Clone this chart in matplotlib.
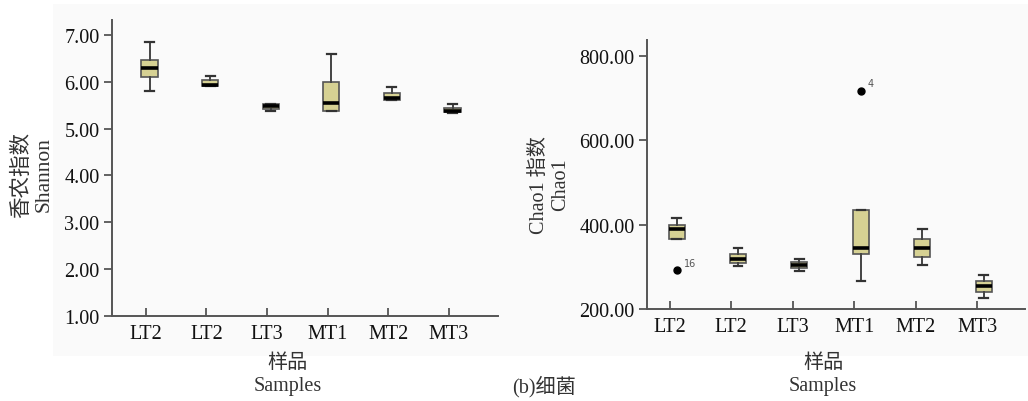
import numpy as np
import matplotlib.pyplot as plt
from matplotlib.patches import Rectangle


# Sample names and box statistics (whisker low, Q1, median, Q3, whisker high).
samples = ["LT2", "LT2", "LT3", "MT1", "MT2", "MT3"]

shannon_whislo = [5.81, 5.91, 5.37, 5.37, 5.61, 5.34]
shannon_q1     = [6.10, 5.92, 5.43, 5.38, 5.62, 5.35]
shannon_med    = [6.29, 5.94, 5.49, 5.55, 5.65, 5.38]
shannon_q3     = [6.46, 6.03, 5.52, 5.99, 5.76, 5.45]
shannon_whishi = [6.84, 6.12, 5.53, 6.60, 5.89, 5.52]

chao1_whislo = [366.0, 302.6, 290.8, 267.0, 303.6, 226.8]
chao1_q1     = [366.0, 308.3, 296.4, 329.6, 323.2, 241.0]
chao1_med    = [389.6, 317.8, 303.6, 343.8, 344.5, 255.2]
chao1_q3     = [399.8, 329.6, 310.7, 435.3, 366.6, 267.0]
chao1_whishi = [415.6, 343.8, 319.2, 435.3, 389.6, 280.6]
chao1_fliers = [[292.4], [], [], [717.3], [], []]
chao1_flier_ids = [["16"], [], [], ["4"], [], []]

boxColour = "#d6d193"
edgeColour = "#555555"
serifFamily = ["Liberation Serif", "Noto Sans CJK SC"]
fontSize = 14.5


def BuildStats(lo, q1, med, q3, hi, fliers=None):
    stats = []
    for i in range(len(lo)):
        stats.append({"whislo": lo[i], "q1": q1[i], "med": med[i], "q3": q3[i], "whishi": hi[i],
                      "fliers": fliers[i] if fliers is not None else []})
    return stats


def StyleAxis(ax):
    ax.set_facecolor("none")
    for side in ["top", "right"]:
        ax.spines[side].set_visible(False)
    for side in ["left", "bottom"]:
        ax.spines[side].set_color(edgeColour)
        ax.spines[side].set_linewidth(1.4)
    ax.tick_params(axis="y", direction="out", length=6, width=1.3, color=edgeColour, pad=3, labelsize=fontSize)
    ax.tick_params(axis="x", direction="in", length=6, width=1.3, color=edgeColour, pad=6, labelsize=fontSize)
    ax.set_xticks(np.arange(len(samples)))
    ax.set_xticklabels(samples)
    for label in ax.get_xticklabels() + ax.get_yticklabels():
        label.set_fontfamily(serifFamily)
        label.set_color("#111111")


def DrawBoxes(ax, stats, offset, width):
    ax.bxp(stats, positions=np.arange(len(stats)) + offset, widths=width, capwidths=width * 0.55,
           patch_artist=True, showfliers=True,
           boxprops=dict(facecolor=boxColour, edgecolor=edgeColour, linewidth=1.2),
           medianprops=dict(color="black", linewidth=2.6),
           whiskerprops=dict(color="#444444", linewidth=1.4),
           capprops=dict(color="#333333", linewidth=1.6),
           flierprops=dict(marker="o", markerfacecolor="black", markeredgecolor="black", markersize=5))


fig = plt.figure(figsize=(10.28, 4.02), dpi=100)
fig.patches.append(Rectangle((53 / 1028, 1 - 357 / 402), 975 / 1028, 352 / 402,
                             transform=fig.transFigure, facecolor="#fafafa", edgecolor="none", zorder=-5))

# Shannon index panel.
ax1 = fig.add_axes([0.1089, 0.2114, 0.3755, 0.7364])
DrawBoxes(ax1, BuildStats(shannon_whislo, shannon_q1, shannon_med, shannon_q3, shannon_whishi), 0.06, 0.27)
ax1.set_ylim(1.0, 7.32)
ax1.set_xlim(-0.56, 5.81)
ax1.set_yticks(np.arange(1, 8))
ax1.set_yticklabels(["%.2f" % v for v in np.arange(1, 8)])
StyleAxis(ax1)

# Chao1 index panel.
ax2 = fig.add_axes([0.6294, 0.2289, 0.3677, 0.6699])
DrawBoxes(ax2, BuildStats(chao1_whislo, chao1_q1, chao1_med, chao1_q3, chao1_whishi, chao1_fliers), 0.11, 0.26)
for i in range(len(samples)):
    for value, name in zip(chao1_fliers[i], chao1_flier_ids[i]):
        ax2.annotate(name, (i + 0.11, value), xytext=(5, 3), textcoords="offset points",
                     fontsize=7, color="#555555", family="DejaVu Sans")
ax2.set_ylim(200, 838)
ax2.set_xlim(-0.37, 5.78)
ax2.set_yticks([200, 400, 600, 800])
ax2.set_yticklabels(["%.2f" % v for v in [200, 400, 600, 800]])
StyleAxis(ax2)

# Axis titles and caption.
fig.text(33 / 1028, 1 - 175 / 402, "香农指数\nShannon", rotation=90, ha="center", va="center",
         multialignment="center", fontsize=15.5, family=serifFamily, color="#333333", linespacing=1.2)
fig.text(550 / 1028, 1 - 185 / 402, "Chao1 指数\nChao1", rotation=90, ha="center", va="center",
         multialignment="center", fontsize=fontSize, family=serifFamily, color="#333333", linespacing=1.2)
fig.text(288 / 1028, 1 - 375 / 402, "样品\nSamples", ha="center", va="center",
         multialignment="center", fontsize=fontSize, family=serifFamily, color="#333333", linespacing=1.3)
fig.text(823 / 1028, 1 - 375 / 402, "样品\nSamples", ha="center", va="center",
         multialignment="center", fontsize=fontSize, family=serifFamily, color="#333333", linespacing=1.3)
fig.text(544 / 1028, 1 - 387 / 402, "(b)细菌", ha="center", va="center",
         fontsize=fontSize, family=serifFamily, color="#333333")

fig.savefig("out.png", dpi=100)
